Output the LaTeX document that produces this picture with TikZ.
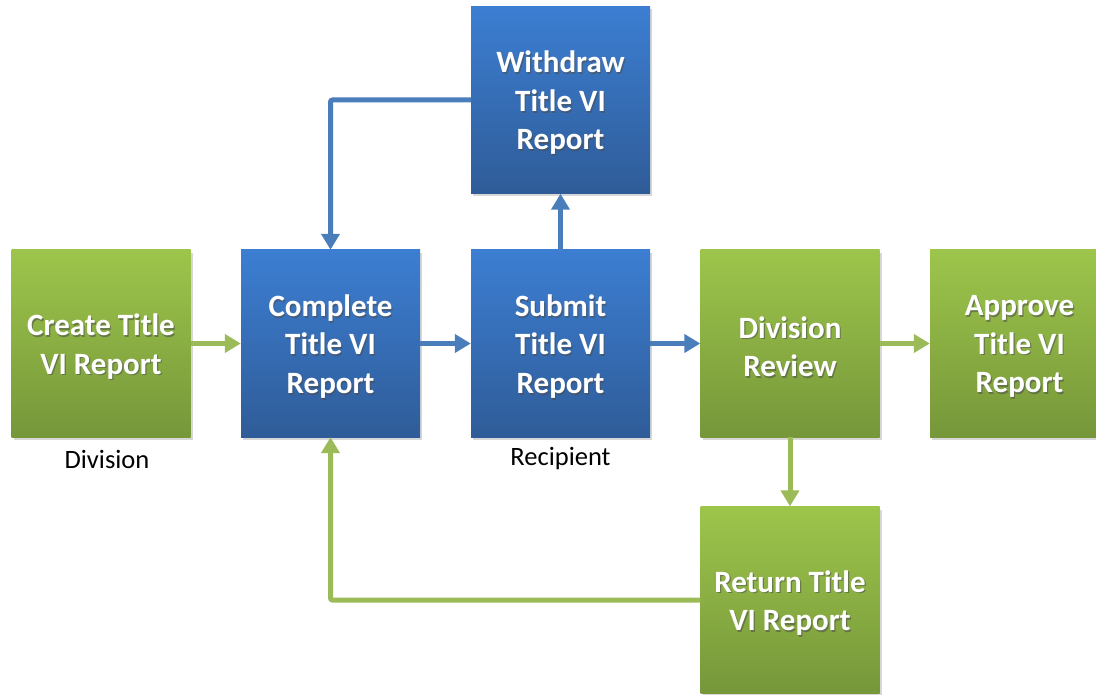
\documentclass[tikz,border=0pt]{standalone}
\usepackage{fontspec}
\setmainfont{Carlito}
\usetikzlibrary{arrows.meta,shadows}
\definecolor{gtop}{HTML}{9DC54B}
\definecolor{gbot}{HTML}{76973A}
\definecolor{btop}{HTML}{3C7ED2}
\definecolor{bbot}{HTML}{2F5C98}
\definecolor{bline}{HTML}{4A7EBB}
\definecolor{gline}{HTML}{9BBB59}
\tikzset{
  procbox/.style={rectangle, minimum width=179pt, minimum height=187pt, inner sep=0pt,
    general shadow={fill=black!35, opacity=0.45, shadow xshift=2pt, shadow yshift=-3pt}},
  greenbox/.style={procbox, top color=gtop, bottom color=gbot},
  bluebox/.style={procbox, top color=btop, bottom color=bbot},
  boxtext/.style={align=center, text=white, font=\bfseries\fontsize{31}{38.5}\selectfont, inner sep=0pt},
  boxshade/.style={boxtext, text=black!70, opacity=0.55},
  caption/.style={font=\fontsize{26.5}{30}\selectfont, text=black, inner sep=0pt},
  conn/.style={line width=5pt, -{Triangle[width=18pt,length=16pt]}},
  bconn/.style={conn, draw=bline},
  gconn/.style={conn, draw=gline},
}
\newcommand\procnode[5]{%
  \node[#4] (#1) at (#2,#3) {};
  \node[boxshade] at ([xshift=1.2pt,yshift=-4.6pt]#1.center) {#5};
  \node[boxtext] (#1t) at ([yshift=-3pt]#1.center) {#5};
}
\begin{document}
\begin{tikzpicture}[x=1pt,y=-1pt]
\useasboundingbox (0,0) rectangle (1096,695);
\procnode{create}{101}{343.5}{greenbox}{Create Title\\VI Report}
\procnode{complete}{330.5}{343.5}{bluebox}{Complete\\Title VI\\Report}
\procnode{submit}{560.5}{343.5}{bluebox}{Submit\\Title VI\\Report}
\procnode{review}{790}{343.5}{greenbox}{Division\\Review}
\procnode{approve}{1019.5}{343.5}{greenbox}{Approve\\Title VI\\Report}
\procnode{withdraw}{560.5}{100}{bluebox}{Withdraw\\Title VI\\Report}
\procnode{return}{790}{600}{greenbox}{Return Title\\VI Report}
\node[caption] (capdiv) at (107,459) {Division};
\node[caption] (caprec) at (560.5,459) {Recipient};
\draw[gconn] (create.east) -- (complete.west);
\draw[bconn] (complete.east) -- (submit.west);
\draw[bconn] (submit.east) -- (review.west);
\draw[gconn] (review.east) -- (approve.west);
\draw[bconn] (submit.north) -- (withdraw.south);
\draw[gconn] (review.south) -- (return.north);
\draw[bconn, rounded corners=2pt] (withdraw.west) -| (complete.north);
\draw[gconn, rounded corners=2pt] (return.west) -| (complete.south);
\end{tikzpicture}
\end{document}
